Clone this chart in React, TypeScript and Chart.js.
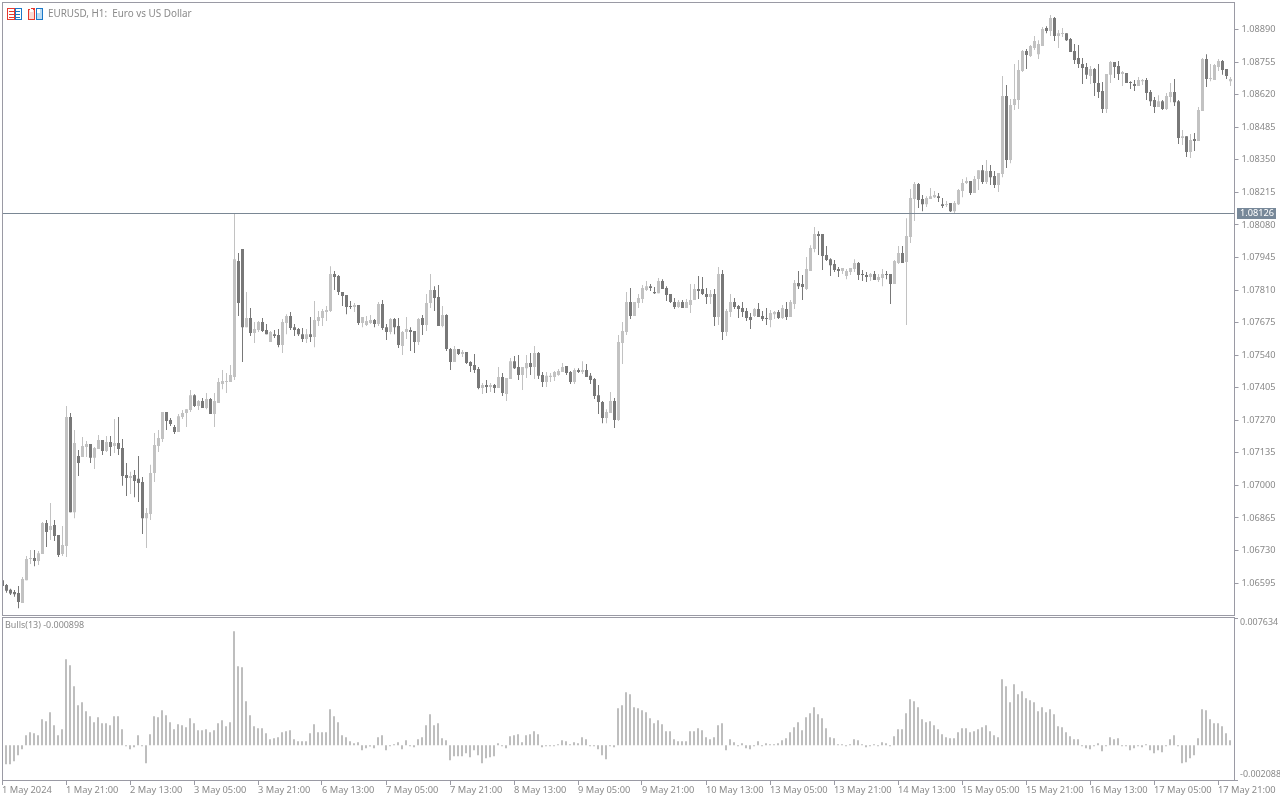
import React, { useEffect, useRef } from "react";
import { Chart, registerables } from "chart.js";

Chart.register(...registerables);

// Prices are in points (1e-5), one entry per H1 candle.
const highs = [
106611,106591,106571,106566,106583,106620,106707,106732,106732,106728,
106848,106856,106927,106856,106794,106832,107329,107300,107230,107147,
107201,107184,107172,107159,107209,107188,107205,107205,107275,107283,
107192,107093,107056,107064,107122,107035,106906,107085,107217,107230,
107304,107304,107279,107250,107296,107312,107316,107395,107378,107354,
107362,107383,107362,107383,107445,107478,107466,107499,108125,107963,
107980,107802,107735,107677,107681,107694,107669,107640,107644,107648,
107690,107710,107719,107669,107652,107652,107648,107698,107764,107723,
107731,107744,107909,107889,107872,107802,107789,107764,107756,107748,
107698,107702,107706,107690,107760,107769,107669,107694,107694,107694,
107640,107698,107656,107640,107694,107706,107793,107876,107826,107831,
107744,107710,107570,107578,107565,107561,107553,107515,107545,107491,
107424,107437,107424,107420,107491,107466,107445,107528,107536,107541,
107491,107541,107549,107578,107553,107470,107470,107466,107474,107482,
107507,107495,107474,107486,107486,107515,107503,107466,107445,107416,
107350,107316,107387,107362,107623,107677,107802,107818,107760,107793,
107831,107847,107835,107822,107860,107855,107826,107793,107777,107769,
107769,107773,107835,107835,107868,107864,107818,107810,107814,107905,
107893,107731,107793,107777,107748,107760,107735,107715,107735,107756,
107723,107735,107727,107723,107727,107748,107760,107769,107851,107889,
107872,107947,107996,108071,108054,108042,107992,107942,107934,107905,
107901,107897,107901,107938,107926,107893,107885,107880,107889,107876,
107897,107889,107876,107934,107992,107992,108108,108229,108258,108254,
108204,108199,108233,108221,108212,108191,108179,108171,108179,108229,
108270,108278,108262,108283,108307,108328,108349,108328,108303,108295,
108697,108660,108602,108747,108764,108805,108809,108826,108863,108846,
108900,108904,108950,108942,108888,108896,108875,108855,108830,108826,
108772,108751,108739,108730,108747,108672,108706,108759,108755,108759,
108718,108710,108676,108681,108693,108685,108689,108639,108610,108618,
108598,108627,108668,108685,108598,108473,108448,108457,108461,108569,
108772,108788,108747,108747,108768,108764,108726,108693];

const lows = [
106579,106555,106545,106538,106491,106512,106607,106674,106665,106670,
106715,106744,106773,106769,106703,106707,106703,106889,106864,107039,
107118,107118,107093,107068,107151,107126,107138,107122,107134,107126,
106998,106956,106964,106951,106931,106798,106740,106856,107014,107138,
107180,107230,107246,107213,107221,107275,107242,107304,107325,107312,
107321,107316,107296,107242,107342,107399,107383,107429,107437,107702,
107511,107656,107619,107590,107636,107636,107627,107594,107611,107573,
107549,107627,107644,107619,107619,107594,107590,107594,107573,107661,
107661,107681,107719,107810,107789,107744,107710,107731,107719,107665,
107656,107661,107669,107656,107661,107644,107603,107627,107627,107570,
107541,107607,107557,107549,107582,107623,107640,107735,107723,107661,
107656,107557,107478,107511,107541,107532,107503,107470,107466,107399,
107379,107383,107387,107383,107404,107371,107350,107441,107482,107437,
107395,107445,107458,107441,107441,107408,107408,107429,107433,107454,
107470,107458,107420,107420,107466,107462,107449,107420,107358,107296,
107258,107258,107300,107238,107267,107503,107623,107690,107702,107735,
107756,107806,107806,107793,107797,107814,107764,107756,107731,107735,
107735,107735,107715,107769,107773,107789,107752,107752,107661,107665,
107603,107619,107698,107731,107694,107698,107681,107648,107698,107698,
107681,107665,107656,107690,107690,107690,107686,107698,107731,107814,
107769,107810,107889,107967,107955,107893,107930,107868,107885,107864,
107876,107855,107872,107885,107851,107847,107843,107847,107851,107843,
107826,107855,107752,107835,107918,107922,107665,108005,108096,108150,
108137,108154,108187,108191,108175,108150,108154,108133,108129,108162,
108195,108250,108204,108212,108225,108250,108250,108245,108233,108216,
108278,108316,108336,108556,108560,108714,108726,108776,108805,108768,
108822,108875,108863,108842,108813,108859,108842,108797,108747,108730,
108664,108685,108664,108614,108606,108544,108544,108668,108689,108681,
108656,108668,108643,108635,108656,108660,108598,108573,108544,108569,
108556,108556,108589,108573,108415,108411,108361,108357,108386,108428,
108552,108652,108676,108681,108718,108702,108685,108656];

const opens = [
106607,106587,106567,106558,106554,106512,106607,106695,106699,106686,
106715,106844,106815,106836,106794,106715,106749,107283,106889,107122,
107118,107159,107172,107114,107151,107188,107143,107180,107163,107176,
107155,107043,107031,107043,107027,107014,106864,106881,107051,107163,
107192,107304,107271,107242,107221,107283,107300,107312,107374,107329,
107350,107321,107358,107296,107342,107420,107429,107429,107449,107930,
107980,107656,107694,107632,107644,107677,107644,107594,107627,107623,
107582,107673,107702,107656,107648,107627,107607,107627,107615,107681,
107694,107719,107723,107876,107868,107802,107789,107744,107740,107748,
107673,107665,107673,107686,107669,107752,107656,107636,107690,107661,
107578,107636,107644,107640,107594,107694,107665,107756,107810,107781,
107661,107706,107565,107511,107565,107545,107553,107511,107499,107482,
107404,107416,107408,107416,107404,107449,107379,107441,107515,107491,
107458,107486,107507,107491,107549,107458,107429,107449,107449,107458,
107470,107495,107470,107429,107478,107470,107478,107454,107441,107374,
107346,107279,107300,107350,107271,107590,107636,107760,107702,107756,
107773,107810,107826,107802,107797,107847,107818,107793,107760,107740,
107760,107735,107748,107769,107814,107814,107793,107781,107793,107698,
107876,107636,107719,107760,107744,107735,107723,107698,107702,107731,
107702,107694,107686,107710,107719,107694,107731,107698,107752,107839,
107835,107814,107889,107980,108042,108042,107955,107938,107918,107897,
107889,107868,107885,107897,107922,107876,107872,107864,107876,107851,
107860,107876,107876,107835,107922,107963,107926,108030,108187,108250,
108187,108166,108187,108195,108199,108166,108162,108171,108137,108166,
108221,108254,108262,108212,108270,108307,108258,108303,108283,108245,
108291,108614,108349,108577,108598,108718,108801,108780,108813,108788,
108822,108896,108884,108938,108863,108871,108875,108851,108801,108772,
108747,108735,108697,108726,108668,108635,108560,108702,108755,108739,
108706,108710,108672,108664,108656,108676,108681,108631,108598,108569,
108593,108560,108610,108631,108593,108440,108448,108382,108436,108428,
108552,108768,108685,108681,108735,108759,108726,108676];

const closes = [
106583,106563,106552,106549,106516,106612,106695,106699,106686,106719,
106844,106807,106832,106790,106711,106753,107283,106889,107176,107093,
107163,107172,107114,107155,107188,107143,107180,107159,107176,107151,
107039,107031,107039,107018,107010,106864,106885,107051,107167,107196,
107304,107267,107254,107221,107287,107300,107316,107374,107329,107350,
107321,107358,107296,107350,107429,107433,107433,107458,107938,107756,
107656,107694,107632,107648,107677,107640,107627,107636,107619,107582,
107677,107702,107652,107644,107627,107607,107627,107615,107686,107698,
107723,107727,107876,107864,107802,107785,107740,107740,107748,107673,
107698,107681,107686,107669,107752,107652,107636,107690,107656,107582,
107636,107648,107636,107594,107690,107665,107756,107810,107777,107661,
107706,107565,107511,107565,107545,107553,107507,107495,107478,107404,
107416,107408,107416,107404,107449,107383,107445,107515,107486,107458,
107491,107507,107491,107549,107454,107429,107454,107454,107470,107474,
107491,107466,107429,107478,107470,107478,107449,107437,107371,107346,
107279,107304,107350,107271,107594,107640,107760,107702,107760,107777,
107818,107826,107818,107797,107847,107814,107789,107760,107740,107760,
107735,107760,107769,107814,107806,107793,107781,107793,107698,107876,
107636,107723,107760,107740,107731,107719,107694,107686,107731,107698,
107690,107690,107715,107719,107694,107735,107698,107760,107839,107826,
107822,107897,107984,108042,108034,107951,107934,107913,107893,107889,
107901,107889,107901,107922,107872,107872,107864,107876,107851,107864,
107876,107872,107835,107930,107963,107922,108034,108191,108250,108183,
108166,108191,108199,108204,108191,108158,108166,108137,108171,108225,
108254,108262,108212,108270,108307,108258,108303,108278,108245,108295,
108614,108349,108577,108602,108722,108801,108784,108822,108842,108830,
108892,108884,108938,108863,108875,108875,108846,108797,108764,108747,
108730,108702,108726,108668,108631,108560,108706,108755,108735,108706,
108714,108668,108668,108656,108681,108681,108627,108593,108569,108593,
108560,108614,108631,108589,108440,108448,108382,108432,108428,108556,
108768,108685,108689,108743,108759,108722,108697,108685];

// Bulls Power (13), in millionths.
const bulls = [
-1140,-1140,-1140,-960,-600,-240,600,780,720,600,
1560,1440,1980,1200,600,960,5160,4800,3540,2400,
2580,2040,1740,1380,1680,1320,1320,1200,1740,1740,
960,-60,-240,-120,600,-40,-1080,660,1740,1680,
2100,1800,1380,960,1260,1200,1080,1620,1320,900,
900,960,780,900,1320,1500,1140,1380,6840,4740,
4680,2640,1800,1140,1020,1020,720,360,420,480,
780,840,900,360,240,240,240,720,1260,780,
780,780,2160,1740,1380,600,480,240,120,180,
-300,-180,-80,-180,480,600,-300,-60,60,180,
-240,300,-60,-120,360,480,1200,1860,1200,1320,
420,300,-900,-660,-660,-660,-480,-720,-300,-600,
-1080,-780,-720,-660,120,-60,-180,540,600,660,
180,600,660,840,660,-120,-60,-60,-60,60,
300,240,60,180,120,480,360,-60,-60,-240,
-600,-840,-60,-120,2220,2400,3180,3060,2280,2220,
2100,1980,1620,1320,1500,1260,840,840,360,240,
240,240,840,840,1020,900,480,360,480,1200,
1320,-300,360,180,-60,120,-180,-240,-60,240,
-60,120,60,60,120,300,420,780,1080,1380,
900,1680,1920,2280,1860,1620,1020,480,420,60,
60,-60,60,360,300,60,-120,-60,60,-60,
180,120,-60,540,960,960,1920,2760,2640,2280,
1560,1380,1440,1200,960,660,480,420,420,780,
1020,1020,780,840,960,1080,1200,840,600,480,
3960,3540,2580,3660,3060,3240,2820,2700,2580,2040,
2280,1980,2160,1860,1140,1080,780,540,360,360,
-60,-180,-240,-60,120,-360,-60,480,360,420,
-40,-60,-300,-180,-60,-120,60,-300,-480,-300,
-420,-60,360,600,-40,-1080,-1020,-780,-600,420,
2160,2100,1560,1320,1320,1140,720,300];

const priceTicks = [108890,108755,108620,108485,108350,108215,108080,107945,107810,107675,107540,107405,107270,107135,107000,106865,106730,106595];
const timeLabels = ["1 May 2024","1 May 21:00","2 May 13:00","3 May 05:00","3 May 21:00","6 May 13:00","7 May 05:00","7 May 21:00","8 May 13:00","9 May 05:00","9 May 21:00","10 May 13:00","13 May 05:00","13 May 21:00","14 May 13:00","15 May 05:00","15 May 21:00","16 May 13:00","17 May 05:00","17 May 21:00"];
const currentPrice = 108126;
const bullsMax = 0.007634;
const bullsMin = -0.002088;
const titleText = "EURUSD, H1:  Euro vs US Dollar";
const bullsText = "Bulls(13) -0.000898";

const UP = "#c2c2c2";
const DOWN = "#787878";
const BULL = "#bebebe";
const FRAME = "#9a9aa4";
const TEXT = "#8a8a8a";
const FONT = '"Noto Sans", sans-serif';
const FONT_SIZE = 9.2;
const BARS_PER_LABEL = 16;

const candleColors = opens.map((o, i) => (closes[i] >= o ? UP : DOWN));

function drawIcons(ctx: CanvasRenderingContext2D) {
  const red = "#e8392e";
  const blue = "#1c78c8";
  const rect = (c: string, x: number, y: number, w: number, h: number) => {
    ctx.fillStyle = c;
    ctx.fillRect(x, y, w, h);
  };
  // symbol icon
  rect(red, 7, 8, 8, 12);
  rect("#fff", 8, 9, 6, 10);
  rect(blue, 15, 8, 7, 12);
  rect("#fff", 16, 9, 5, 10);
  for (const y of [11, 14, 17]) {
    rect(red, 9, y, 5, 1);
    rect(blue, 16, y, 4, 1);
  }
  // period icon
  rect(red, 28, 9, 7, 11);
  rect("#fbd9d4", 29, 10, 5, 9);
  rect(red, 31, 8, 4, 1);
  rect("#fff", 30, 9, 3, 3);
  rect(blue, 36, 8, 7, 12);
  rect("#bcdcf4", 37, 9, 5, 10);
  rect("#fff", 37, 9, 3, 4);
}

const mainPlugin = {
  id: "mainOverlay",
  afterDraw(chart: any) {
    const { ctx, scales } = chart;
    ctx.save();
    const py = Math.floor(scales.y.getPixelForValue(currentPrice));
    ctx.fillStyle = "#7a8794";
    ctx.fillRect(3, py, 1231, 1);
    ctx.fillStyle = FRAME;
    ctx.fillRect(2, 2, 1233, 1);
    ctx.fillRect(2, 2, 1, 614);
    ctx.fillRect(1234, 2, 1, 614);
    ctx.fillRect(2, 615, 1233, 1);
    ctx.fillStyle = "#778899";
    ctx.fillRect(1237, py - 5, 39, 11);
    ctx.font = `${FONT_SIZE}px ${FONT}`;
    ctx.textBaseline = "middle";
    ctx.textAlign = "left";
    ctx.fillStyle = "#ffffff";
    ctx.fillText((currentPrice / 100000).toFixed(5), 1240, py + 0.5);
    ctx.fillStyle = TEXT;
    ctx.font = `9.9px ${FONT}`;
    ctx.fillText(titleText, 48, 14);
    drawIcons(ctx);
    ctx.restore();
  },
};

const subPlugin = {
  id: "subOverlay",
  afterDraw(chart: any) {
    const { ctx } = chart;
    ctx.save();
    ctx.fillStyle = FRAME;
    ctx.fillRect(2, 1, 1233, 1);
    ctx.fillRect(2, 1, 1, 164);
    ctx.fillRect(1234, 1, 1, 164);
    ctx.fillRect(2, 164, 1233, 1);
    ctx.fillStyle = TEXT;
    ctx.textBaseline = "middle";
    ctx.textAlign = "left";
    ctx.font = `8.95px ${FONT}`;
    ctx.fillText(bullsText, 5, 9.5);
    ctx.fillText(bullsMax.toFixed(6), 1240, 6.5);
    ctx.fillText(bullsMin.toFixed(6), 1240, 158);
    ctx.restore();
  },
};

export default function App() {
  const mainRef = useRef<HTMLCanvasElement>(null);
  const subRef = useRef<HTMLCanvasElement>(null);

  useEffect(() => {
    const mainChart = new Chart(mainRef.current as HTMLCanvasElement, {
      type: "bar",
      data: {
        datasets: [
          {
            label: "Wick",
            data: opens.map((_, i) => ({ x: i, y: [lows[i], highs[i]] })),
            backgroundColor: candleColors,
            barThickness: 1,
            grouped: false,
            inflateAmount: 0,
            borderWidth: 0,
          },
          {
            label: "Body",
            data: opens.map((o, i) => ({ x: i, y: [o, closes[i]] })),
            backgroundColor: candleColors,
            barThickness: 3,
            grouped: false,
            inflateAmount: 0,
            borderWidth: 0,
            minBarLength: 1,
          },
        ] as any,
      },
      options: {
        responsive: false,
        animation: false,
        devicePixelRatio: 1,
        layout: { padding: { left: 2.5, right: 0, top: 3, bottom: 1 } },
        plugins: { legend: { display: false }, tooltip: { enabled: false } },
        scales: {
          x: { type: "linear", min: 0, max: 308, offset: false, display: false },
          y: {
            position: "right",
            min: 106462.5,
            max: 109000,
            afterBuildTicks(s: any) {
              s.ticks = priceTicks.map((value) => ({ value }));
            },
            afterFit(s: any) {
              s.width = 45.5;
              s.paddingTop = 0;
              s.paddingBottom = 0;
            },
            border: { display: false },
            grid: { drawOnChartArea: false, tickLength: 4, tickColor: FRAME },
            ticks: {
              padding: 3,
              color: TEXT,
              font: { family: FONT, size: FONT_SIZE },
              callback: (v: any) => (Number(v) / 100000).toFixed(5),
            },
          },
        },
      } as any,
      plugins: [mainPlugin],
    });

    const subChart = new Chart(subRef.current as HTMLCanvasElement, {
      type: "bar",
      data: {
        datasets: [
          {
            label: "Bulls",
            data: bulls.map((v, i) => ({ x: i, y: v / 1e6 })),
            backgroundColor: BULL,
            barThickness: 2,
            inflateAmount: 0,
            borderWidth: 0,
            minBarLength: 1,
          },
        ] as any,
      },
      options: {
        responsive: false,
        animation: false,
        devicePixelRatio: 1,
        layout: { padding: { left: 2, right: 0, top: 2, bottom: 0 } },
        plugins: { legend: { display: false }, tooltip: { enabled: false } },
        scales: {
          x: {
            type: "linear",
            min: 0,
            max: 308,
            offset: false,
            afterBuildTicks(s: any) {
              s.ticks = timeLabels.map((_, k) => ({ value: k * BARS_PER_LABEL }));
            },
            afterFit(s: any) {
              s.height = 20;
              s.paddingLeft = 0;
              s.paddingRight = 0;
            },
            border: { display: false },
            grid: { offset: false, drawOnChartArea: false, tickLength: 5, tickColor: FRAME },
            ticks: {
              autoSkip: false,
              maxRotation: 0,
              minRotation: 0,
              align: "start",
              padding: 0,
              color: TEXT,
              font: { family: FONT, size: 9.3 },
              callback: (v: any) => timeLabels[Number(v) / BARS_PER_LABEL],
            },
          },
          y: {
            position: "right",
            min: bullsMin,
            max: bullsMax,
            afterBuildTicks(s: any) {
              s.ticks = [{ value: bullsMax }, { value: bullsMin }];
            },
            afterFit(s: any) {
              s.width = 46;
              s.paddingTop = 0;
              s.paddingBottom = 0;
            },
            border: { display: false },
            grid: { drawOnChartArea: false, tickLength: 4, tickColor: FRAME },
            ticks: { display: false },
          },
        },
      } as any,
      plugins: [subPlugin],
    });

    return () => {
      mainChart.destroy();
      subChart.destroy();
    };
  }, []);

  return (
    <div style={{ position: "absolute", left: 0, top: 0, width: 1280, height: 800, background: "#fff" }}>
      <canvas ref={mainRef} width={1280} height={616} style={{ position: "absolute", left: 0, top: 0, display: "block" }} />
      <canvas ref={subRef} width={1280} height={184} style={{ position: "absolute", left: 0, top: 616, display: "block" }} />
    </div>
  );
}
